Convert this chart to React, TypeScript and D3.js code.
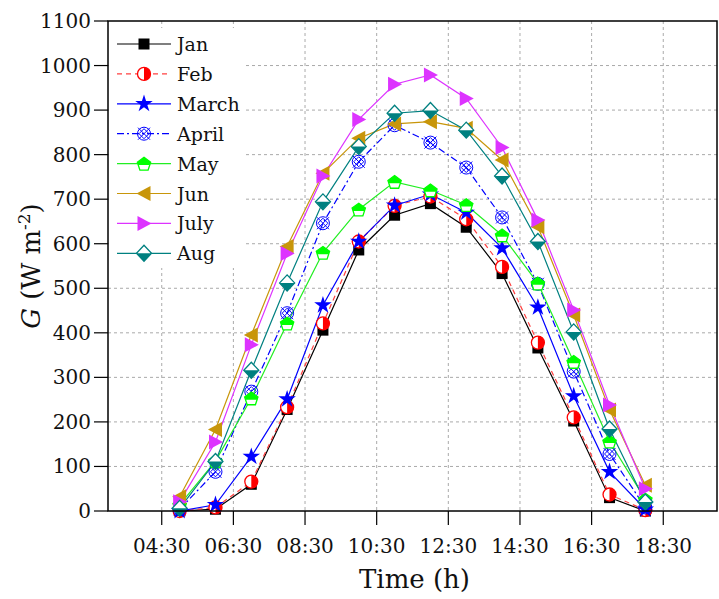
import React from "react";
import * as d3 from "d3";

const hours = [5, 6, 7, 8, 9, 10, 11, 12, 13, 14, 15, 16, 17, 18];
const janValues = [0, 4, 60, 228, 406, 586, 664, 690, 637, 533, 366, 202, 30, 0];
const febValues = [0, 8, 66, 233, 421, 605, 685, 706, 655, 548, 378, 210, 37, 2];
const marchValues = [0, 14, 122, 251, 462, 605, 686, 711, 670, 590, 457, 258, 88, 4];
const aprilValues = [4, 88, 268, 444, 646, 784, 866, 827, 771, 659, 510, 313, 128, 8];
const mayValues = [14, 112, 253, 421, 580, 677, 739, 720, 687, 619, 511, 335, 156, 26];
const junValues = [32, 183, 395, 594, 758, 837, 869, 874, 859, 788, 638, 440, 227, 58];
const julyValues = [21, 155, 373, 578, 752, 879, 958, 979, 926, 816, 653, 451, 238, 50];
const augValues = [6, 111, 316, 512, 694, 818, 893, 899, 855, 752, 605, 402, 184, 20];

const seriesNames = ["Jan", "Feb", "March", "April", "May", "Jun", "July", "Aug"];
const xTickValues = [4.5, 6.5, 8.5, 10.5, 12.5, 14.5, 16.5, 18.5];
const yTickValues = [0, 100, 200, 300, 400, 500, 600, 700, 800, 900, 1000, 1100];

const W = 719;
const H = 599;
const L = 108, R = 717, T = 21, B = 511;
const FONT = "'DejaVu Serif', 'Liberation Serif', serif";

type Style = { color: string; line: string; dash?: string; marker: string };
const styles: Style[] = [
  { color: "#000000", line: "#000000", marker: "square" },
  { color: "#FF0000", line: "#FF4040", dash: "5,4", marker: "halfcircle" },
  { color: "#0000FF", line: "#0000FF", marker: "star" },
  { color: "#0000FF", line: "#0000FF", dash: "7,3,2,3", marker: "crossed" },
  { color: "#00FF00", line: "#22EE22", marker: "pentagon" },
  { color: "#C8960A", line: "#C8960A", marker: "ltri" },
  { color: "#DD33FF", line: "#DD33FF", marker: "rtri" },
  { color: "#008080", line: "#008080", marker: "diamond" },
];

function Marker({ type, color, x, y }: { type: string; color: string; x: number; y: number }) {
  const tr = `translate(${x},${y})`;
  switch (type) {
    case "square":
      return <rect x={x - 5.5} y={y - 5.5} width={11} height={11} fill={color} />;
    case "halfcircle":
      return (
        <g transform={tr}>
          <circle r={6.5} fill="#fff" stroke={color} strokeWidth={1.3} />
          <path d="M0,-6.5 A6.5,6.5 0 0 1 0,6.5 Z" fill={color} />
        </g>
      );
    case "star":
      return <path transform={tr} d={d3.symbol(d3.symbolStar, 95)() || ""} fill={color} />;
    case "crossed":
      return (
        <g transform={tr} fill="none" stroke={color} strokeWidth={1}>
          <circle r={6.5} />
          <path d="M-6,-6 L6,6 M-6,6 L6,-6" />
          <path d="M0,-5 L5,0 L0,5 L-5,0 Z" />
        </g>
      );
    case "pentagon": {
      const pts = d3.range(5).map((i) => {
        const a = -Math.PI / 2 + (i * 2 * Math.PI) / 5;
        return [7 * Math.cos(a), 7 * Math.sin(a) + 0.8];
      });
      const d = "M" + pts.map((p) => p.join(",")).join("L") + "Z";
      return (
        <g transform={tr}>
          <path d={d} fill="#fff" stroke={color} strokeWidth={1.3} />
          <path d={d} fill={color} clipPath="url(#topHalf)" />
        </g>
      );
    }
    case "ltri":
      return <path transform={tr} d="M-7.5,0 L6.5,-7.5 L6.5,7.5 Z" fill={color} />;
    case "rtri":
      return <path transform={tr} d="M7.5,0 L-6.5,-7.5 L-6.5,7.5 Z" fill={color} />;
    case "diamond": {
      const d = "M0,-8 L7.5,0 L0,8 L-7.5,0 Z";
      return (
        <g transform={tr}>
          <path d={d} fill="#fff" stroke={color} strokeWidth={1.3} />
          <path d={d} fill={color} clipPath="url(#bottomHalf)" />
        </g>
      );
    }
  }
  return null;
}

export default function App() {
  const x = d3.scaleLinear().domain([3, 20]).range([L, R]);
  const y = d3.scaleLinear().domain([0, 1100]).range([B, T]);
  const allSeries = [janValues, febValues, marchValues, aprilValues, mayValues, junValues, julyValues, augValues];
  const line = d3
    .line<number>()
    .x((_, i) => x(hours[i]))
    .y((v) => y(v));
  const fmt = (h: number) => `${String(Math.floor(h)).padStart(2, "0")}:30`;

  const legendX0 = 117, legendX1 = 171, legendY0 = 44, legendDY = 29.9;

  return (
    <svg width={W} height={H} style={{ position: "absolute", left: 0, top: 0, background: "#fff" }}>
      <defs>
        <clipPath id="topHalf">
          <rect x={-12} y={-12} width={24} height={13.5} />
        </clipPath>
        <clipPath id="bottomHalf">
          <rect x={-12} y={0} width={24} height={12} />
        </clipPath>
      </defs>
      <rect x={0} y={0} width={W} height={H} fill="#fff" />
      <g stroke="#aaaaaa" strokeWidth={1} strokeDasharray="3,3">
        {yTickValues.filter((v) => v > 0 && v < 1100).map((v) => (
          <line key={"gy" + v} x1={L} x2={R} y1={y(v)} y2={y(v)} />
        ))}
        {xTickValues.map((h) => (
          <line key={"gx" + h} x1={x(h)} x2={x(h)} y1={T} y2={B} />
        ))}
      </g>
      <rect x={L + 1} y={28} width={135} height={240} fill="#fff" />
      {allSeries.map((vals, si) => (
        <path
          key={"l" + si}
          d={line(vals) || ""}
          fill="none"
          stroke={styles[si].line}
          strokeWidth={1.2}
          strokeDasharray={styles[si].dash}
        />
      ))}
      {allSeries.map((vals, si) => (
        <g key={"m" + si}>
          {vals.map((v, i) => (
            <Marker key={i} type={styles[si].marker} color={styles[si].color} x={x(hours[i])} y={y(v)} />
          ))}
        </g>
      ))}
      <rect x={L} y={T} width={R - L} height={B - T} fill="none" stroke="#000" strokeWidth={1.5} />
      <g fontFamily={FONT} fontSize={20} fill="#111">
        {yTickValues.map((v) => (
          <g key={"yt" + v}>
            <line x1={L - 14} x2={L} y1={y(v)} y2={y(v)} stroke="#000" strokeWidth={1.2} />
            <text x={L - 17} y={y(v) + 7} textAnchor="end">
              {v}
            </text>
          </g>
        ))}
        {xTickValues.map((h) => (
          <g key={"xt" + h}>
            <line x1={x(h)} x2={x(h)} y1={B} y2={B + 14} stroke="#000" strokeWidth={1.2} />
            <text x={x(h)} y={B + 42} textAnchor="middle">
              {fmt(h)}
            </text>
          </g>
        ))}
      </g>
      <text x={(L + R) / 2 + 2} y={588} textAnchor="middle" fontFamily={FONT} fontSize={26} fill="#111">
        Time (h)
      </text>
      <text
        transform={`translate(40,${(T + B) / 2}) rotate(-90)`}
        textAnchor="middle"
        fontFamily={FONT}
        fontSize={26}
        fill="#111"
      >
        <tspan fontStyle="italic">G</tspan>
        <tspan> (W m</tspan>
        <tspan fontSize={17} dy={-10}>-2</tspan>
        <tspan dy={10}>)</tspan>
      </text>
      <g>
        {seriesNames.map((name, si) => {
          const ly = legendY0 + si * legendDY;
          return (
            <g key={"lg" + si}>
              <line
                x1={legendX0}
                x2={legendX1}
                y1={ly}
                y2={ly}
                stroke={styles[si].line}
                strokeWidth={1.2}
                strokeDasharray={styles[si].dash}
              />
              <Marker type={styles[si].marker} color={styles[si].color} x={(legendX0 + legendX1) / 2} y={ly} />
              <text x={177} y={ly + 7} fontFamily={FONT} fontSize={19} fill="#111">
                {name}
              </text>
            </g>
          );
        })}
      </g>
    </svg>
  );
}
